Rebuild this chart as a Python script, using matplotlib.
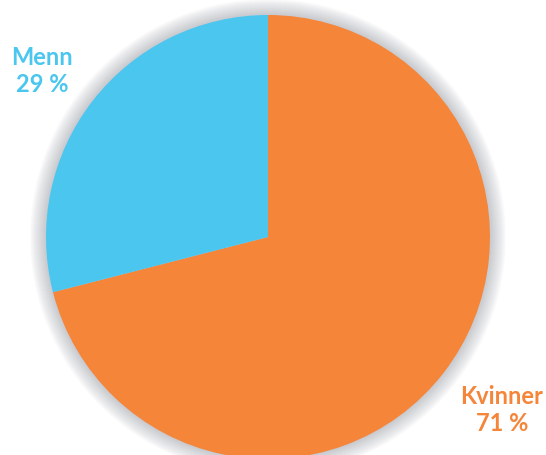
import numpy as np
import matplotlib.pyplot as plt
from matplotlib.patches import Circle

labels = ["Kvinner", "Menn"]
shares = [71, 29]
colors = ["#F48539", "#4AC6EF"]

W, H = 546, 456
cx, cy, r = 268, 238, 222  # pixel position of pie


def main():
    fig = plt.figure(figsize=(W / 100, H / 100), dpi=100)
    ax = fig.add_axes([0, 0, 1, 1])

    # soft shadow halo
    for i in range(16):
        ax.add_patch(Circle((0, 0), 1 + 0.0045 * (i + 1),
                            color="#8a8f99", alpha=0.03, lw=0, zorder=0))

    ax.pie(shares, colors=colors, startangle=90, counterclock=False,
           radius=1, center=(0, 0), frame=True,
           wedgeprops=dict(linewidth=0))
    ax.set_xlim(-cx / r, (W - cx) / r)
    ax.set_ylim((cy - H) / r, cy / r)
    ax.axis("off")

    font = dict(family=["Lato", "DejaVu Sans"], fontweight="bold",
                fontsize=17, ha="center", va="baseline", linespacing=1.2)
    ax.text((42 - cx) / r, (cy - 92) / r, f"{labels[1]}\n{shares[1]} %",
            color=colors[1], **font)
    ax.text((502 - cx) / r, (cy - 431) / r, f"{labels[0]}\n{shares[0]} %",
            color=colors[0], **font)

    plt.savefig("out.png", dpi=100)


main()
